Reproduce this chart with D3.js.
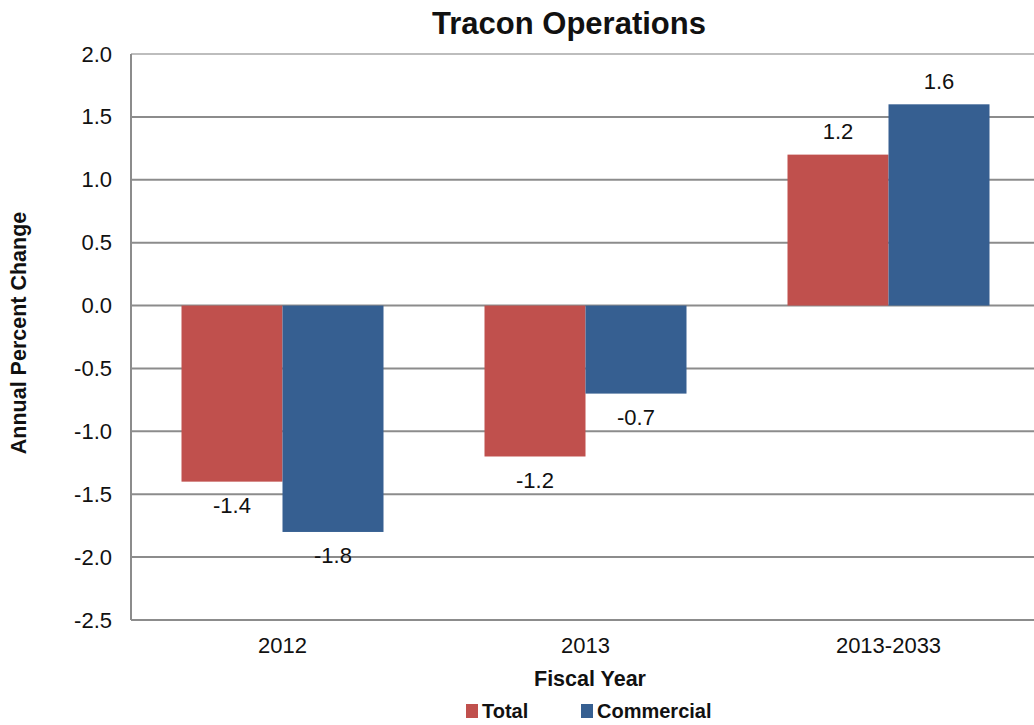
<!DOCTYPE html>
<html>
<head>
<meta charset="utf-8">
<script src="https://cdn.jsdelivr.net/npm/d3@7"></script>
<style>
  body { margin: 0; background: #fff; }
  svg { display: block; font-family: Arial, "Liberation Sans", sans-serif; }
</style>
</head>
<body>
<div id="chart"></div>
<script>
const categories = ['2012', '2013', '2013-2033'];
const seriesNames = ['Total', 'Commercial'];
const totalValues = [-1.4, -1.2, 1.2];
const commercialValues = [-1.8, -0.7, 1.6];
const yTicks = [2.0, 1.5, 1.0, 0.5, 0.0, -0.5, -1.0, -1.5, -2.0, -2.5];
const colors = ['#c0504d', '#365f91'];

const width = 1034, height = 725;
const margin = { top: 54, left: 131, bottom: 105 };
const plotW = 909;
const plotH = height - margin.top - margin.bottom;

// plain hyphen for negatives, like the original
const fmt = v => d3.format('.1f')(v).replace('\u2212', '-');

const svg = d3.select('#chart')
    .append('svg')
    .attr('width', width)
    .attr('height', height);

const g = svg.append('g')
    .attr('transform', `translate(${margin.left},${margin.top})`);

const x = d3.scaleBand()
    .domain(categories)
    .range([0, plotW])
    .paddingInner(0)
    .paddingOuter(0);

const xInner = d3.scaleBand()
    .domain(seriesNames)
    .range([x.bandwidth() / 6, x.bandwidth() * 5 / 6]);

const y = d3.scaleLinear()
    .domain([-2.5, 2.0])
    .range([plotH, 0]);

// gridlines
g.append('g')
    .selectAll('line')
    .data(yTicks)
    .join('line')
    .attr('x1', 0)
    .attr('x2', plotW)
    .attr('y1', d => y(d))
    .attr('y2', d => y(d))
    .attr('stroke', d => d === 2.0 ? '#bdbdbd' : '#8c8c8c')
    .attr('stroke-width', 2);

// left axis line
g.append('line')
    .attr('x1', 0).attr('x2', 0)
    .attr('y1', 0).attr('y2', plotH)
    .attr('stroke', '#8c8c8c')
    .attr('stroke-width', 2);

// y tick labels
g.append('g')
    .selectAll('text')
    .data(yTicks)
    .join('text')
    .attr('x', -19)
    .attr('y', d => y(d))
    .attr('text-anchor', 'end')
    .attr('dominant-baseline', 'central')
    .attr('font-size', 22)
    .attr('fill', '#111')
    .text(d => fmt(d));

// bars
const rows = categories.map((c, i) => ({
    cat: c,
    vals: [
        { s: seriesNames[0], v: totalValues[i], color: colors[0] },
        { s: seriesNames[1], v: commercialValues[i], color: colors[1] }
    ]
}));

const groups = g.selectAll('.grp')
    .data(rows)
    .join('g')
    .attr('class', 'grp')
    .attr('transform', d => `translate(${x(d.cat)},0)`);

groups.selectAll('rect')
    .data(d => d.vals)
    .join('rect')
    .attr('x', d => xInner(d.s))
    .attr('width', xInner.bandwidth())
    .attr('y', d => y(Math.max(0, d.v)))
    .attr('height', d => Math.abs(y(d.v) - y(0)))
    .attr('fill', d => d.color);

groups.selectAll('text.val')
    .data(d => d.vals)
    .join('text')
    .attr('class', 'val')
    .attr('x', d => xInner(d.s) + xInner.bandwidth() / 2)
    .attr('y', d => d.v >= 0 ? y(d.v) - 23 : y(d.v) + 24)
    .attr('text-anchor', 'middle')
    .attr('dominant-baseline', 'central')
    .attr('font-size', 22)
    .attr('fill', '#111')
    .text(d => fmt(d.v));

// category labels
g.append('g')
    .selectAll('text')
    .data(categories)
    .join('text')
    .attr('x', d => x(d) + x.bandwidth() / 2)
    .attr('y', plotH + 25)
    .attr('text-anchor', 'middle')
    .attr('dominant-baseline', 'central')
    .attr('font-size', 22)
    .attr('fill', '#111')
    .text(d => d);

// title
svg.append('text')
    .attr('x', 569)
    .attr('y', 23)
    .attr('text-anchor', 'middle')
    .attr('dominant-baseline', 'central')
    .attr('font-size', 31)
    .attr('font-weight', 'bold')
    .attr('fill', '#111')
    .text('Tracon Operations');

// axis titles
svg.append('text')
    .attr('x', 590)
    .attr('y', 679)
    .attr('text-anchor', 'middle')
    .attr('dominant-baseline', 'central')
    .attr('font-size', 21.5)
    .attr('font-weight', 'bold')
    .attr('fill', '#111')
    .text('Fiscal Year');

svg.append('text')
    .attr('transform', 'translate(19,333) rotate(-90)')
    .attr('text-anchor', 'middle')
    .attr('dominant-baseline', 'central')
    .attr('font-size', 21.5)
    .attr('font-weight', 'bold')
    .attr('fill', '#111')
    .text('Annual Percent Change');

// legend, kept just inside the bottom edge
const legendX = [466, 581];
const legend = svg.append('g')
    .selectAll('g')
    .data(seriesNames)
    .join('g')
    .attr('transform', (d, i) => `translate(${legendX[i]},0)`);

legend.append('rect')
    .attr('x', 0)
    .attr('y', 704)
    .attr('width', 12)
    .attr('height', 14)
    .attr('fill', (d, i) => colors[i]);

legend.append('text')
    .attr('x', 16)
    .attr('y', 718)
    .attr('font-size', 20)
    .attr('font-weight', 'bold')
    .attr('fill', '#111')
    .text(d => d);
</script>
</body>
</html>
